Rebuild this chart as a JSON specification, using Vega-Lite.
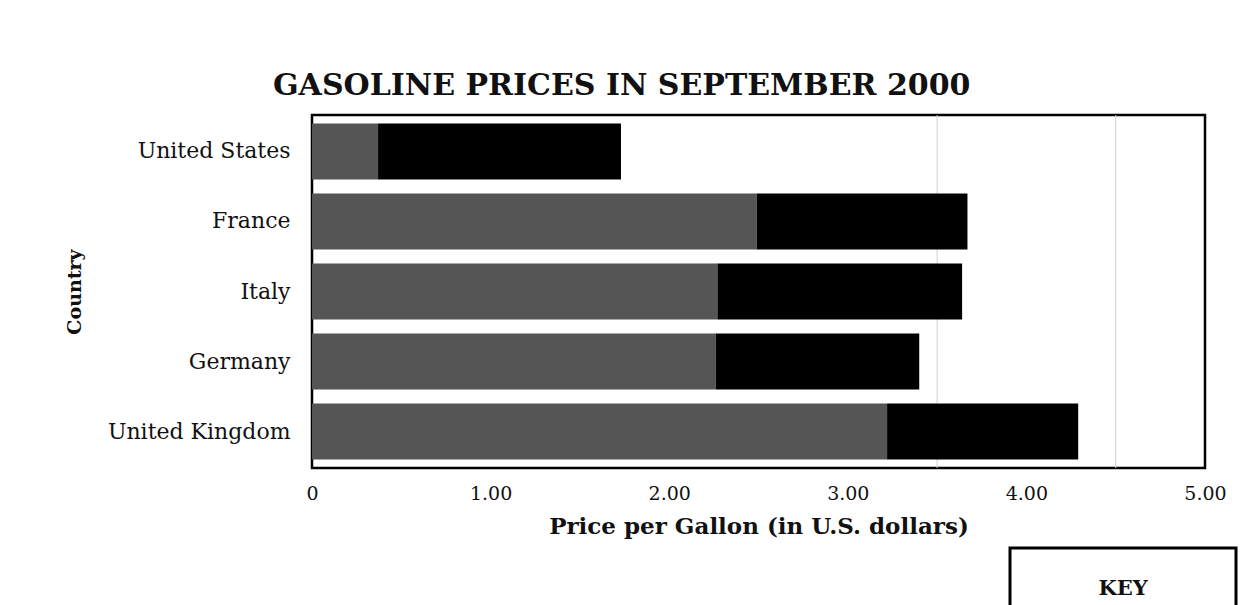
{
  "$schema": "https://vega.github.io/schema/vega-lite/v6.json",
  "autosize": {"type": "none"},
  "padding": {"left": 312, "top": 115, "right": 51, "bottom": 137},
  "width": 893,
  "height": 353,
  "background": "white",
  "title": {
    "text": "GASOLINE PRICES IN SEPTEMBER 2000",
    "anchor": "start",
    "frame": "group",
    "dx": -39,
    "offset": 14,
    "font": "DejaVu Serif",
    "fontSize": 30,
    "fontWeight": "bold",
    "color": "#111111"
  },
  "datasets": {
    "grid": [{"g": 3.5}, {"g": 4.5}],
    "prices": [
      {"country": "United States", "component": "Taxes", "seq": 1, "price": 0.37},
      {"country": "United States", "component": "Price before taxes", "seq": 2, "price": 1.36},
      {"country": "France", "component": "Taxes", "seq": 1, "price": 2.49},
      {"country": "France", "component": "Price before taxes", "seq": 2, "price": 1.18},
      {"country": "Italy", "component": "Taxes", "seq": 1, "price": 2.27},
      {"country": "Italy", "component": "Price before taxes", "seq": 2, "price": 1.37},
      {"country": "Germany", "component": "Taxes", "seq": 1, "price": 2.26},
      {"country": "Germany", "component": "Price before taxes", "seq": 2, "price": 1.14},
      {"country": "United Kingdom", "component": "Taxes", "seq": 1, "price": 3.22},
      {"country": "United Kingdom", "component": "Price before taxes", "seq": 2, "price": 1.07}
    ]
  },
  "layer": [
    {
      "data": {"name": "grid"},
      "mark": {"type": "rule", "color": "#d0d0d0", "strokeWidth": 1},
      "encoding": {
        "x": {"field": "g", "type": "quantitative"}
      }
    },
    {
      "data": {"name": "prices"},
      "mark": {"type": "bar"},
      "encoding": {
        "y": {
          "field": "country",
          "type": "nominal",
          "sort": ["United States", "France", "Italy", "Germany", "United Kingdom"],
          "scale": {"paddingInner": 0.2, "paddingOuter": 0.12},
          "axis": {
            "title": "Country",
            "titleFont": "DejaVu Serif",
            "titleFontSize": 19,
            "titleFontWeight": "bold",
            "titleColor": "#111111",
            "titlePadding": 28,
            "labelFont": "DejaVu Serif",
            "labelFontSize": 22,
            "labelColor": "#111111",
            "labelPadding": 22,
            "labelLimit": 400,
            "ticks": false,
            "domain": false
          }
        },
        "x": {
          "field": "price",
          "type": "quantitative",
          "stack": "zero",
          "scale": {"domain": [0, 5], "nice": false},
          "axis": {
            "title": "Price per Gallon (in U.S. dollars)",
            "titleFont": "DejaVu Serif",
            "titleFontSize": 23,
            "titleFontWeight": "bold",
            "titleColor": "#111111",
            "titlePadding": 12,
            "values": [0, 1, 2, 3, 4, 5],
            "labelExpr": "datum.value === 0 ? '0' : format(datum.value, '.2f')",
            "labelFont": "DejaVu Serif",
            "labelFontSize": 19,
            "labelColor": "#111111",
            "labelPadding": 16,
            "labelFlush": false,
            "ticks": false,
            "domain": false,
            "grid": false
          }
        },
        "color": {
          "field": "component",
          "type": "nominal",
          "scale": {"domain": ["Taxes", "Price before taxes"], "range": ["#555555", "#000000"]},
          "legend": {
            "orient": "none",
            "legendX": 698,
            "legendY": 433,
            "title": "KEY",
            "titleFont": "DejaVu Serif",
            "titleFontSize": 21,
            "titleFontWeight": "bold",
            "titleColor": "#111111",
            "titleAnchor": "middle",
            "titlePadding": 45,
            "labelExpr": "''",
            "labelFont": "DejaVu Serif",
            "labelFontSize": 15,
            "symbolType": "square",
            "symbolSize": 300,
            "strokeColor": "#000000",
            "padding": 30,
            "columns": 2,
            "columnPadding": 120,
            "fillColor": "white"
          }
        },
        "order": {"field": "seq", "type": "quantitative"}
      }
    }
  ],
  "config": {
    "view": {"stroke": "#000000", "strokeWidth": 2.5},
    "legend": {"strokeWidth": 3}
  }
}
